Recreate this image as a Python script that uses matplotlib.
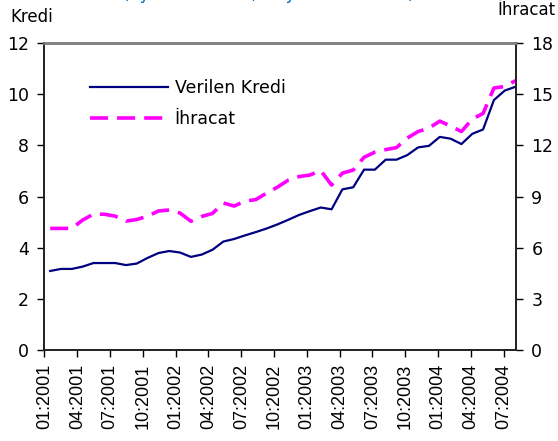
import matplotlib.pyplot as plt
import numpy as np

# Aylık veriler: 01:2001 - 08:2004
kredi = [3.09, 3.17, 3.17, 3.26, 3.40, 3.40, 3.40, 3.32, 3.38, 3.60,
         3.79, 3.87, 3.81, 3.64, 3.73, 3.92, 4.24, 4.34, 4.48, 4.61,
         4.75, 4.91, 5.09, 5.28, 5.43, 5.57, 5.50, 6.28, 6.36, 7.05,
         7.05, 7.44, 7.44, 7.62, 7.92, 7.98, 8.33, 8.26, 8.05, 8.45,
         8.62, 9.77, 10.14, 10.29]
ihracat = [7.13, 7.13, 7.13, 7.62, 7.97, 7.96, 7.85, 7.56, 7.65, 7.85,
           8.15, 8.21, 8.03, 7.55, 7.83, 8.01, 8.62, 8.44, 8.73, 8.82,
           9.20, 9.55, 9.96, 10.17, 10.26, 10.52, 9.67, 10.37, 10.55, 11.30,
           11.60, 11.75, 11.87, 12.43, 12.81, 13.01, 13.42, 13.13, 12.81, 13.54,
           13.87, 15.36, 15.45, 15.79]
etiketler = ['01:2001', '04:2001', '07:2001', '10:2001', '01:2002', '04:2002',
             '07:2002', '10:2002', '01:2003', '04:2003', '07:2003', '10:2003',
             '01:2004', '04:2004', '07:2004']

ay = np.arange(len(kredi))

fig = plt.figure(figsize=(5.58, 4.41), dpi=100)
ax = fig.add_axes([0.0789, 0.2063, 0.8458, 0.6962])
ax2 = ax.twinx()

l1, = ax.plot(ay, kredi, color='#000080', lw=1.6)
l2, = ax2.plot(ay, ihracat, color='#FF00FF', lw=2.6, dashes=(5, 2.5))

ax.set_xlim(-0.57, 43.04)
ax.set_ylim(0, 12)
ax2.set_ylim(0, 18)
ax.set_yticks(range(0, 13, 2))
ax2.set_yticks(range(0, 19, 3))
ax.set_xticks(np.linspace(-0.53, 41.9, len(etiketler)))
ax.set_xticklabels(etiketler, rotation=90, fontsize=13, family='Liberation Sans')

for a in (ax, ax2):
    a.tick_params(axis='y', length=5, width=1, labelsize=12.5, pad=6)
    for lab in a.get_yticklabels():
        lab.set_family('DejaVu Sans')
    for s in a.spines.values():
        s.set_color('#202020')
        s.set_linewidth(1.2)
    a.spines['top'].set_color('#808080')
    a.spines['top'].set_linewidth(1.8)
ax.tick_params(axis='x', length=5, width=1, pad=5)

fig.text(0.018, 0.962, 'Kredi', fontsize=12, family='DejaVu Sans', va='center')
fig.text(0.995, 0.978, 'İhracat', fontsize=12, family='DejaVu Sans', va='center', ha='right')
fig.text(0.22, 1.013, '(Aylık Ortalama, Milyar ABD Doları)', fontsize=12,
         color='#0070C0', family='DejaVu Sans', va='center')

ax.legend([l1, l2], ['Verilen Kredi', 'İhracat'], loc='upper left',
          bbox_to_anchor=(0.065, 0.935), frameon=False, handlelength=4.5,
          prop={'family': 'DejaVu Sans', 'size': 12.5}, labelspacing=0.75,
          handletextpad=0.35)

fig.savefig('out.png', dpi=100)
